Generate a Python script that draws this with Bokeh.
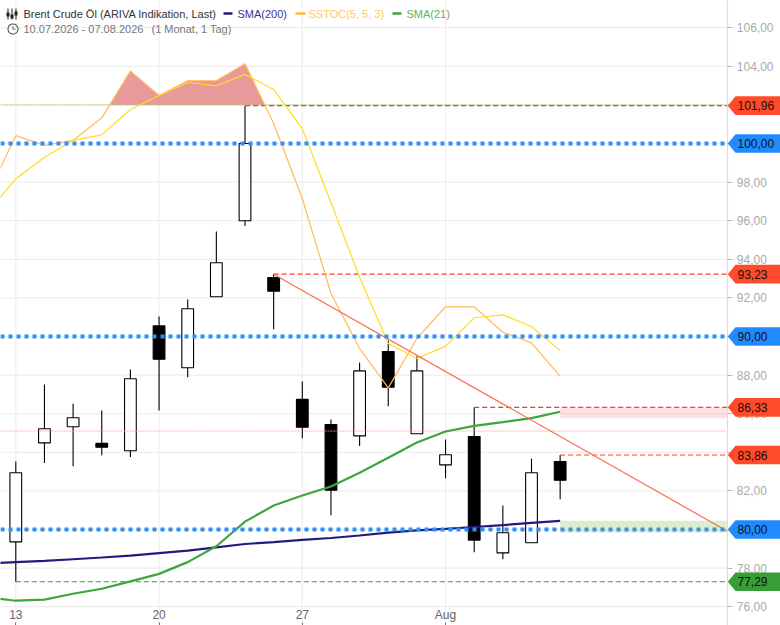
import numpy as np
from bokeh.plotting import figure
from bokeh.models import ColumnDataSource, FixedTicker, Range1d, LinearAxis, Label, PolyAnnotation, Span
from bokeh.core.properties import value
from bokeh.embed import file_html
from bokeh.resources import INLINE

FONT = "Liberation Sans"

# ---- data ----
x_tick_idx = [0, 5, 10, 15]
x_tick_labels = ["13", "20", "27", "Aug"]
y_ticks = [76, 78, 80, 82, 84, 86, 88, 90, 92, 94, 96, 98, 100, 102, 104, 106]
y_tick_labels = ["76,00", "78,00", "80,00", "82,00", "84,00", "86,00", "88,00", "90,00",
                 "92,00", "94,00", "96,00", "98,00", "100,00", "102,00", "104,00", "106,00"]

opens = [79.36, 84.49, 85.32, 84.46, 84.08, 90.55, 88.38, 92.06, 96.00, 93.06,
         86.74, 85.44, 84.85, 89.22, 84.96, 83.35, 84.82, 78.79, 79.31, 83.52]
closes = [82.94, 85.22, 85.79, 84.26, 87.81, 88.82, 91.44, 93.82, 100.00, 92.35,
          85.30, 82.04, 88.22, 87.37, 88.22, 83.87, 79.45, 79.83, 82.94, 82.55]
highs = [83.52, 87.51, 86.51, 86.17, 88.29, 91.04, 91.92, 95.44, 101.96, 93.23,
         87.67, 85.70, 88.65, 89.79, 88.98, 84.66, 86.33, 81.24, 83.68, 83.86]
lows = [77.29, 83.44, 83.28, 83.85, 83.75, 86.17, 87.89, 92.06, 95.72, 90.38,
        84.73, 80.74, 84.32, 86.39, 84.96, 82.66, 78.82, 78.46, 79.31, 81.57]

line_idx = [-1, 0, 1, 2, 3, 4, 5, 6, 7, 8, 9, 10, 11, 12, 13, 14, 15, 16, 17, 18, 19]
sma200 = [78.24, 78.31, 78.37, 78.46, 78.55, 78.65, 78.78, 78.91, 79.07, 79.25, 79.35,
          79.46, 79.56, 79.69, 79.84, 79.95, 80.03, 80.13, 80.23, 80.34, 80.45]
sma21 = [76.48, 76.31, 76.37, 76.67, 76.93, 77.31, 77.70, 78.31, 79.13, 80.41, 81.24,
         81.76, 82.23, 82.94, 83.72, 84.51, 85.08, 85.37, 85.56, 85.77, 86.10]
sstoc_fast = [97.28, 100.41, 99.90, 100.16, 101.33, 103.75, 102.49, 103.25, 103.25, 104.13,
              101.04, 97.15, 92.23, 89.38, 87.34, 89.90, 91.54, 91.54, 90.22, 89.67, 87.93]
sstoc_slow = [96.41, 98.17, 99.29, 100.16, 100.45, 101.76, 102.49, 103.16, 102.99, 103.58,
              102.80, 100.76, 96.94, 93.07, 89.64, 88.86, 89.50, 90.97, 91.12, 90.52, 89.27]

overbought = 102.0
blue_levels = [100.0, 90.0, 80.0]
midline = 85.10
resist_top, resist_bottom = 86.33, 85.76
support_top, support_bottom = 80.45, 79.85
trend_start, trend_end = 93.23, 79.9

tag_values = [101.96, 100.00, 93.23, 90.00, 86.33, 83.86, 80.00, 77.29]
tag_labels = ["101,96", "100,00", "93,23", "90,00", "86,33", "83,86", "80,00", "77,29"]
tag_colors = ["#ff4b2b", "#1f8bff", "#ff4b2b", "#1f8bff", "#ff4b2b", "#ff4b2b", "#1f8bff", "#379e37"]

# ---- layout ----
W, H = 780, 625
PX_DAY, PX_ORIGIN = 28.65, 15.3
X0 = -PX_ORIGIN / PX_DAY
X1 = (W - PX_ORIGIN) / PX_DAY
Y0, Y1 = 75.026, 107.409
PX_UNIT = H / (Y1 - Y0)


def xd(px):
    return (px - PX_ORIGIN) / PX_DAY


AXIS_X = xd(727.3)

p = figure(width=W, height=H, frame_width=W, frame_height=H,
           x_range=Range1d(X0, X1), y_range=Range1d(Y0, Y1),
           output_backend="svg", toolbar_location=None, x_axis_location=None,
           y_axis_location=None, min_border=0,
           outline_line_color=None, background_fill_color="white",
           styles={"position": "absolute", "left": "0px", "top": "0px"})
p.grid.visible = False

xax = LinearAxis(ticker=FixedTicker(ticks=x_tick_idx), fixed_location=Y0,
                 major_label_overrides=dict(zip(x_tick_idx, x_tick_labels)),
                 axis_line_color=None, major_tick_in=3, major_tick_out=0,
                 major_tick_line_color="#777777", minor_tick_line_color=None,
                 major_label_standoff=-18, major_label_text_color="#666666",
                 major_label_text_font=FONT, major_label_text_font_size="12px")
p.add_layout(xax, "below")
yax = LinearAxis(ticker=FixedTicker(ticks=y_ticks), fixed_location=AXIS_X,
                 major_label_overrides=dict(zip(y_ticks, y_tick_labels)),
                 axis_line_color="#dddddd", axis_line_width=1.2, major_tick_in=0, major_tick_out=5,
                 major_tick_line_color="#bbbbbb", minor_tick_line_color=None,
                 major_label_standoff=4, major_label_text_color="#aaaaaa",
                 major_label_text_font=FONT, major_label_text_font_size="12px")
p.add_layout(yax, "right")

for t in x_tick_idx:
    p.add_layout(Span(location=t, dimension="height", line_color="#eeeeee", line_width=1.2, level="underlay"))
p.segment([X0] * len(y_ticks), y_ticks, [AXIS_X] * len(y_ticks), y_ticks,
          line_color="#eeeeee", line_width=1.2, level="underlay")

idx = list(range(len(opens)))
p.segment(idx, lows, idx, highs, line_color="black", line_width=1.1)
src = ColumnDataSource(dict(
    x=idx,
    top=[max(a, b) for a, b in zip(opens, closes)],
    bottom=[min(a, b) for a, b in zip(opens, closes)],
    fill=["white" if c > o else "black" for o, c in zip(opens, closes)],
))
p.vbar(x="x", top="top", bottom="bottom", width=0.41, fill_color="fill",
       line_color="black", line_width=1.1, source=src)

# overbought area
fx, fy = np.array(line_idx, float), np.array(sstoc_fast)
i_a = next(i for i in range(len(fy) - 1) if fy[i] < overbought <= fy[i + 1])
i_b = next(i for i in range(i_a + 1, len(fy) - 1) if fy[i] >= overbought > fy[i + 1])
xa = fx[i_a] + (overbought - fy[i_a]) / (fy[i_a + 1] - fy[i_a])
xb = fx[i_b] + (fy[i_b] - overbought) / (fy[i_b] - fy[i_b + 1])
area_x = [xa] + list(fx[i_a + 1:i_b + 1]) + [xb]
area_y = [overbought] + list(fy[i_a + 1:i_b + 1]) + [overbought]
p.patch(area_x, area_y, fill_color="#e27f7f", fill_alpha=0.8, line_color=None)

# horizontal reference lines
p.segment([X0], [overbought], [AXIS_X], [overbought], line_color="#9ed67a", line_width=1, line_dash="2 1")
p.segment([X0], [midline], [AXIS_X - 0.05], [midline], line_color="#ff9a9a", line_width=0.8, line_dash="2 1")
for start, lv in [(8, 101.96), (9, 93.23), (16, 86.33), (19, 83.86)]:
    p.segment([start], [lv], [AXIS_X], [lv], line_color="#ff3a1a", line_width=1.1, line_dash="5 3")
p.segment([0], [77.29], [AXIS_X], [77.29], line_color="#2c962c", line_width=1.1, line_dash="5 3")

# indicator lines
p.line(line_idx, sstoc_fast, line_color="#ffbb55", line_width=1.2)
p.line(line_idx, sstoc_slow, line_color="#ffdd22", line_width=1.2)
p.line(line_idx, sma200, line_color="#231a80", line_width=2.2)
p.line(line_idx, sma21, line_color="#3da53d", line_width=2.2)
p.segment([9], [trend_start], [AXIS_X], [trend_end], line_color="#ff6a50", line_width=1.2)

for lv in blue_levels:
    p.segment([X0], [lv], [AXIS_X - 0.05], [lv], line_color="#2a8fff", line_width=4, line_dash="4 4")

# bands
p.quad(left=[19], right=[AXIS_X], top=[resist_top], bottom=[resist_bottom],
       fill_color="#ff5a6a", fill_alpha=0.18, line_color=None)
p.quad(left=[19], right=[AXIS_X], top=[support_top], bottom=[support_bottom],
       fill_color="#6aa83c", fill_alpha=0.22, line_color=None)

# price tags
half = 9.3 / PX_UNIT
tx = [xd(727.3), xd(735), xd(781), xd(781), xd(735)]
p.patches([tx for _ in tag_values],
          [[v, v + half, v + half, v - half, v - half] for v in tag_values],
          fill_color=tag_colors, line_color=None, level="overlay")
p.text([xd(737)] * len(tag_values), tag_values, text=tag_labels, text_color="#111111",
       text_font=value(FONT), text_font_size="12px", text_baseline="middle", level="overlay")


def header(x, y, txt, col, size="11px"):
    p.add_layout(Label(x=x, y=H - y, x_units="screen", y_units="screen", text=txt, text_color=col,
                       text_font=FONT, text_font_size=size, text_baseline="middle", level="overlay"))


def rect(x0, y0, x1, y1, col):
    p.add_layout(PolyAnnotation(xs=[x0, x1, x1, x0], ys=[y0, y0, y1, y1], xs_units="canvas", ys_units="canvas",
                                fill_color=col, fill_alpha=1, line_color=None, level="overlay"))


header(23, 13, "Brent Crude Öl (ARIVA Indikation, Last)", "#333333")
header(237, 13, "SMA(200)", "#3d3390")
header(308, 13, "SSTOC(5, 5, 3)", "#ffc766")
header(406, 13, "SMA(21)", "#5cb45c")
header(23, 28.5, "10.07.2026 - 07.08.2026", "#777777")
header(151, 28.5, "(1 Monat, 1 Tag)", "#777777")
rect(223, 11.8, 232, 14.2, "#231a80")
rect(295, 11.8, 305, 14.2, "#ffbb33")
rect(392, 11.8, 401, 14.2, "#3da53d")

# candlestick icon
for cx, body_top, body_bottom in [(7.5, 12, 16), (11.5, 14, 18), (15.5, 11, 15)]:
    rect(cx - 0.5, 8, cx + 0.5, 19, "#222222")
    rect(cx - 1.5, body_top, cx + 1.5, body_bottom, "#222222")

# clock icon
th = np.linspace(0, 2 * np.pi, 40)
p.add_layout(PolyAnnotation(xs=list(12.5 + 5 * np.cos(th)), ys=list(28.5 + 5 * np.sin(th)),
                            xs_units="canvas", ys_units="canvas", fill_alpha=0,
                            line_color="#555555", line_alpha=1, line_width=1.1, level="overlay"))
rect(12.1, 25.5, 12.9, 29, "#555555")
rect(12.1, 28.3, 15, 29, "#555555")

open("out.html", "w").write(file_html(p, INLINE))
